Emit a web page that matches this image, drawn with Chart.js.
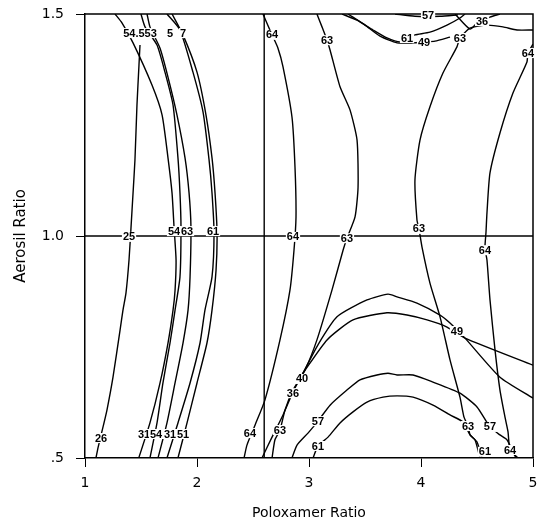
<!DOCTYPE html>
<html>
<head>
<meta charset="utf-8">
<script src="https://cdn.jsdelivr.net/npm/chart.js@4.4.1/dist/chart.umd.min.js"></script>
<style>
html,body{margin:0;padding:0;background:#fff;}
canvas{display:block;}
</style>
</head>
<body>
<canvas id="c" width="542" height="525" style="width:542px;height:525px"></canvas>
<script>
// ---- axis ticks ----
const xTicks = [1, 2, 3, 4, 5];
const yTicks = [0.5, 1.0, 1.5];
const yTickLabels = ['.5', '1.0', '1.5'];

// ---- reference divider lines ----
const divV = [[2.6, 0.5], [2.6, 1.5]];
const divH = [[1, 1.0], [5, 1.0]];

// ---- contour lines (Poloxamer ratio, Aerosil ratio) ----
const c25 = [[1.098,0.5],[1.116,0.523],[1.161,0.57],[1.196,0.608],[1.25,0.682],[1.313,0.788],[1.339,0.833],[1.366,0.872],[1.393,0.946],[1.411,1.02],[1.429,1.097],[1.446,1.171],[1.464,1.295],[1.482,1.385],[1.491,1.43]];
const c31 = [[1.268,1.5],[1.33,1.48],[1.429,1.435],[1.598,1.34],[1.688,1.273],[1.741,1.176],[1.777,1.097],[1.795,1.02],[1.813,0.946],[1.804,0.878],[1.786,0.833],[1.741,0.759],[1.67,0.669],[1.58,0.579],[1.48,0.5]];
const c36a = [[1.5,1.5],[1.536,1.471],[1.643,1.43],[1.714,1.369],[1.786,1.295],[1.83,1.176],[1.848,1.097],[1.857,1.02],[1.848,0.908],[1.804,0.833],[1.759,0.759],[1.696,0.669],[1.643,0.579],[1.58,0.5]];
const c43 = [[1.554,1.5],[1.58,1.471],[1.67,1.423],[1.741,1.358],[1.821,1.273],[1.893,1.176],[1.929,1.097],[1.946,1.02],[1.938,0.908],[1.92,0.833],[1.875,0.759],[1.804,0.669],[1.732,0.579],[1.652,0.5]];
const c51 = [[1.732,1.5],[1.848,1.464],[1.964,1.369],[2.054,1.279],[2.107,1.173],[2.134,1.097],[2.152,1.007],[2.134,0.908],[2.071,0.833],[2.027,0.759],[1.938,0.669],[1.83,0.579],[1.732,0.5]];
const c54 = [[1.777,1.5],[1.875,1.453],[2.0,1.369],[2.08,1.273],[2.134,1.176],[2.161,1.097],[2.179,1.007],[2.17,0.923],[2.134,0.833],[2.089,0.759],[2.0,0.669],[1.911,0.579],[1.83,0.5]];
const c64a = [[2.589,1.5],[2.67,1.453],[2.723,1.423],[2.768,1.381],[2.848,1.268],[2.875,1.155],[2.884,1.043],[2.866,0.968],[2.83,0.878],[2.741,0.766],[2.607,0.631],[2.518,0.574],[2.446,0.529],[2.42,0.5]];
const c63a = [[3.071,1.5],[3.116,1.471],[3.161,1.441],[3.188,1.419],[3.277,1.336],[3.366,1.284],[3.429,1.216],[3.438,1.11],[3.411,1.043],[3.339,0.995],[3.304,0.968],[3.205,0.878],[3.071,0.766],[2.964,0.698],[2.857,0.653],[2.786,0.608],[2.741,0.563],[2.696,0.541],[2.67,0.5]];
const c40 = [[2.58,0.5],[2.67,0.547],[2.768,0.597],[2.857,0.649],[2.946,0.691],[3.08,0.755],[3.25,0.818],[3.518,0.856],[3.705,0.869],[3.786,0.863],[3.964,0.849],[4.17,0.822],[4.259,0.804],[4.393,0.77],[4.705,0.682],[5.0,0.635]];
const c49a = [[2.946,0.691],[3.161,0.766],[3.393,0.811],[3.696,0.827],[3.875,0.822],[4.054,0.811],[4.232,0.795],[4.393,0.77],[5.0,0.709]];
const c57a = [[2.848,0.5],[2.893,0.529],[2.991,0.556],[3.08,0.583],[3.188,0.619],[3.339,0.653],[3.455,0.676],[3.607,0.687],[3.705,0.691],[3.786,0.687],[3.929,0.687],[4.107,0.671],[4.348,0.646],[4.5,0.615],[4.616,0.57],[4.705,0.552],[4.768,0.541],[4.848,0.5]];
const c61a = [[3.036,0.5],[3.08,0.527],[3.17,0.547],[3.277,0.579],[3.393,0.604],[3.518,0.626],[3.661,0.637],[3.786,0.64],[3.929,0.637],[4.107,0.619],[4.259,0.597],[4.375,0.581],[4.438,0.552],[4.5,0.536],[4.545,0.5]];
const c63b = [[5.0,1.464],[4.857,1.464],[4.732,1.471],[4.589,1.475],[4.438,1.468],[4.348,1.446],[4.321,1.426],[4.196,1.367],[4.08,1.291],[3.991,1.216],[3.946,1.126],[3.964,1.036],[3.982,1.016],[4.009,0.975],[4.08,0.894],[4.17,0.818],[4.259,0.721],[4.348,0.637],[4.384,0.592],[4.42,0.572],[4.438,0.552],[4.482,0.541],[4.527,0.5]];
const c64b = [[5.0,1.432],[4.955,1.412],[4.946,1.392],[4.821,1.322],[4.705,1.232],[4.616,1.142],[4.589,1.052],[4.58,1.007],[4.571,0.973],[4.589,0.946],[4.616,0.856],[4.661,0.743],[4.705,0.653],[4.75,0.592],[4.777,0.559],[4.795,0.518],[4.866,0.5]];
const c61b = [[3.295,1.5],[3.429,1.486],[3.571,1.464],[3.696,1.446],[3.813,1.437],[3.875,1.446],[3.946,1.453],[4.08,1.459],[4.232,1.475],[4.348,1.491],[4.393,1.5]];
const c49b = [[3.348,1.5],[3.5,1.475],[3.634,1.45],[3.786,1.435],[3.929,1.435],[4.027,1.437],[4.125,1.439],[4.259,1.448]];
const c36b = [[4.304,1.5],[4.438,1.466],[4.509,1.482],[4.616,1.493],[4.705,1.5]];
const c57b = [[3.768,1.5],[3.946,1.495],[4.17,1.495],[4.33,1.498]];

const contours = [c25,c31,c36a,c43,c51,c54,c64a,c63a,c40,c49a,c57a,c61a,c63b,c64b,c61b,c49b,c36b,c57b];

// ---- contour value labels: [text, poloxamer, aerosil] ----
const contourLabels = [
  ['54.553',1.491,1.457],['5',1.759,1.457],['7',1.875,1.457],
  ['25',1.393,0.998],['54',1.795,1.011],['63',1.911,1.011],['61',2.143,1.011],
  ['26',1.143,0.545],['31',1.527,0.554],['54',1.634,0.554],['31',1.759,0.554],['51',1.875,0.554],
  ['64',2.67,1.453],['63',3.161,1.441],['64',2.857,0.998],['63',3.339,0.995],
  ['63',3.982,1.016],['64',4.571,0.968],['64',4.955,1.412],
  ['61',3.875,1.446],['49',4.027,1.437],['63',4.348,1.446],['57',4.063,1.496],['36',4.545,1.484],
  ['49',4.321,0.786],['40',2.938,0.678],['36',2.857,0.646],['63',2.741,0.563],['64',2.473,0.556],
  ['57',3.08,0.583],['61',3.08,0.527],['63',4.42,0.572],['57',4.616,0.57],['61',4.571,0.514],['64',4.795,0.518]
];

const toPts = arr => arr.map(p => ({x: p[0], y: p[1]}));
const lineDs = (arr, w, t) => ({
  data: toPts(arr), showLine: true, pointRadius: 0, borderColor: '#000',
  borderWidth: w, tension: t, fill: false
});

const datasets = [lineDs(divV, 1.4, 0), lineDs(divH, 1.4, 0)].concat(contours.map(c => lineDs(c, 1.4, 0.2)));

const labelPlugin = {
  id: 'contourLabels',
  afterDatasetsDraw(chart) {
    const {ctx, chartArea: a, scales: {x, y}} = chart;
    ctx.save();
    ctx.strokeStyle = '#000';
    ctx.lineWidth = 1.5;
    ctx.beginPath();
    ctx.moveTo(a.left, a.top); ctx.lineTo(a.right, a.top); ctx.lineTo(a.right, a.bottom);
    ctx.stroke();
    ctx.font = 'bold 11px "Liberation Sans", Arial, sans-serif';
    ctx.textAlign = 'center';
    ctx.textBaseline = 'middle';
    for (const [t, vx, vy] of contourLabels) {
      const px = x.getPixelForValue(vx), py = y.getPixelForValue(vy);
      const w = ctx.measureText(t).width + 2;
      ctx.fillStyle = '#fff';
      ctx.fillRect(px - w / 2, py - 5, w, 10);
      ctx.fillStyle = '#000';
      ctx.fillText(t, px, py + 0.5);
    }
    ctx.restore();
  }
};

new Chart(document.getElementById('c'), {
  type: 'scatter',
  data: {datasets},
  options: {
    responsive: false,
    animation: false,
    devicePixelRatio: 1,
    layout: {padding: {top: 14, right: 9, left: 0, bottom: 0}},
    plugins: {legend: {display: false}, tooltip: {enabled: false}},
    scales: {
      x: {
        type: 'linear', min: 1, max: 5, position: 'bottom',
        afterBuildTicks: s => { s.ticks = xTicks.map(v => ({value: v})); },
        afterFit: s => { s.height = 67; s.paddingLeft = 0; s.paddingRight = 0; },
        ticks: {color: '#000', padding: 8, font: {family: 'DejaVu Sans', size: 14}, callback: v => String(v)},
        grid: {drawOnChartArea: false, drawTicks: true, tickLength: 9, color: '#000', lineWidth: 1},
        border: {display: true, color: '#000', width: 1.5},
        title: {display: true, text: 'Poloxamer Ratio', color: '#000', font: {family: 'DejaVu Sans', size: 14}, padding: {top: 0, bottom: 3}}
      },
      y: {
        type: 'linear', min: 0.5, max: 1.5, position: 'left',
        afterBuildTicks: s => { s.ticks = yTicks.map(v => ({value: v})); },
        afterFit: s => { s.width = 85; s.paddingTop = 0; s.paddingBottom = 0; },
        ticks: {color: '#000', padding: 12, font: {family: 'DejaVu Sans', size: 14}, callback: v => yTickLabels[yTicks.indexOf(v)]},
        grid: {drawOnChartArea: false, drawTicks: true, tickLength: 9, color: '#000', lineWidth: 1},
        border: {display: true, color: '#000', width: 1.5},
        title: {display: true, text: 'Aerosil Ratio', color: '#000', font: {family: 'DejaVu Sans', size: 15}, padding: {top: 12, bottom: 0}}
      }
    }
  },
  plugins: [labelPlugin]
});
</script>
</body>
</html>
